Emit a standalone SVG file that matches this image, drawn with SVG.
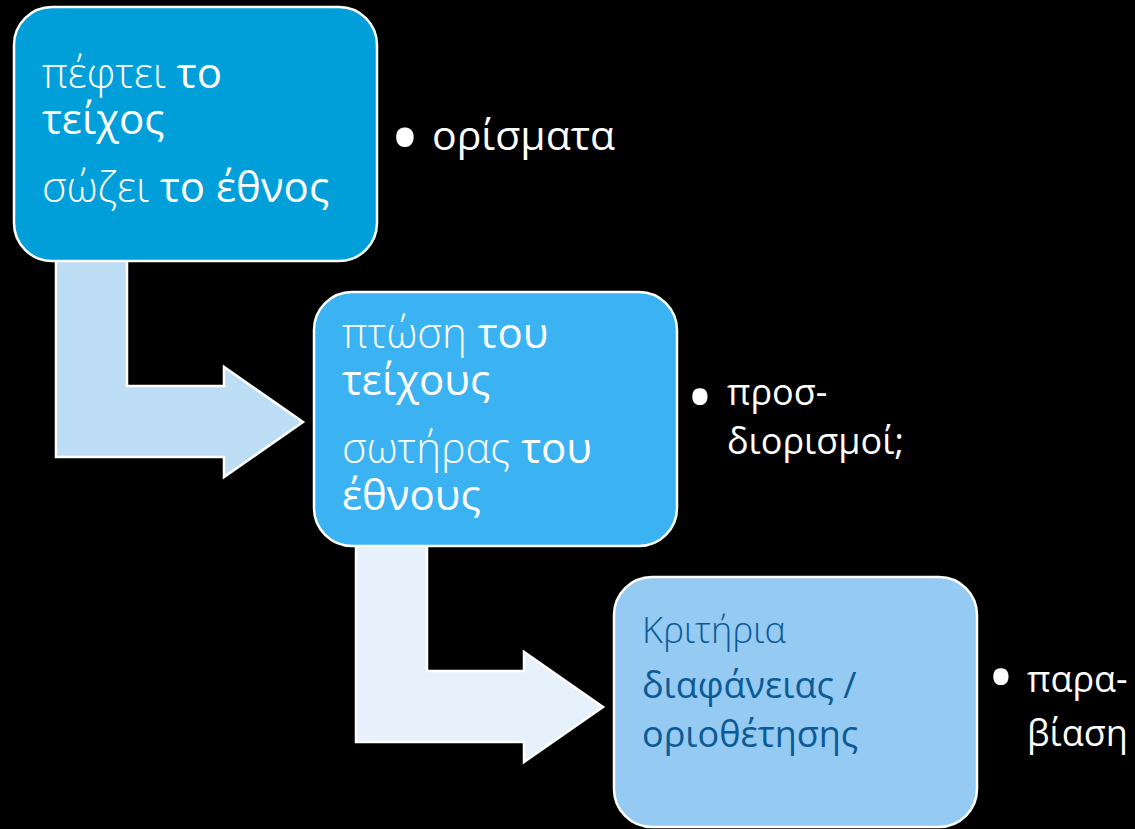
<svg xmlns="http://www.w3.org/2000/svg" width="1135" height="829" viewBox="0 0 1135 829">
<style>
.t{font-family:"Open Sans","Noto Sans","DejaVu Sans",sans-serif;}
.lt{font-weight:300;}
.bd{font-weight:500;}
.bul{font-family:"Open Sans","Noto Sans","DejaVu Sans",sans-serif;font-weight:700;fill:#FFFFFF;text-anchor:middle;}
.box{stroke:#FFFFFF;stroke-width:2.5;}
.arr{stroke:#FFFFFF;stroke-width:2.5;stroke-linejoin:miter;}
</style>
<rect width="1135" height="829" fill="#000000"/>
<g id="connectors">
<path class="arr" fill="#BDDDF5" d="M56,200 L127,200 L127,386 L224,386 L224,367 L303,422 L224,477 L224,457 L56,457 Z"/>
<path class="arr" fill="#E6F1FB" d="M356,500 L427,500 L427,671 L524,671 L524,652 L603,707 L524,762 L524,742 L356,742 Z"/>
</g>
<g id="node1">
<rect class="box" x="14" y="7" width="363" height="254" rx="38" fill="#009FDA"/>
<text class="t" fill="#FFFFFF" font-size="42"><tspan x="42" y="88" class="lt">πέφτει </tspan><tspan class="bd">το</tspan><tspan x="42" y="134" class="bd">τείχος</tspan><tspan x="42" y="202" class="lt">σώζει </tspan><tspan class="bd">το έθνος</tspan></text>
</g>
<g id="note1">
<text class="bul" x="405" y="160" font-size="62">•</text>
<text class="t" fill="#FFFFFF" font-size="41" x="432" y="150">ορίσματα</text>
</g>
<g id="node2">
<rect class="box" x="314" y="292" width="363" height="254" rx="38" fill="#3BB3F3"/>
<text class="t" fill="#FFFFFF" font-size="42"><tspan x="342" y="348" class="lt">πτώση </tspan><tspan class="bd">του</tspan><tspan x="342" y="395" class="bd">τείχους</tspan><tspan x="342" y="463" class="lt">σωτήρας </tspan><tspan class="bd">του</tspan><tspan x="342" y="510" class="bd">έθνους</tspan></text>
</g>
<g id="note2">
<text class="bul" x="700" y="416" font-size="54">•</text>
<text class="t" fill="#FFFFFF" font-size="36"><tspan x="727" y="405">προσ-</tspan><tspan x="727" y="454">διορισμοί;</tspan></text>
</g>
<g id="node3">
<rect class="box" x="614" y="577" width="363" height="250" rx="38" fill="#95CAF2"/>
<text class="t" fill="#0B5A95" font-size="36"><tspan x="642" y="643" class="lt">Κριτήρια</tspan><tspan x="642" y="698">διαφάνειας /</tspan><tspan x="642" y="747">οριοθέτησης</tspan></text>
</g>
<g id="note3">
<text class="bul" x="1001" y="696" font-size="54">•</text>
<text class="t" fill="#FFFFFF" font-size="36"><tspan x="1027" y="692">παρα-</tspan><tspan x="1027" y="746">βίαση</tspan></text>
</g>
</svg>
